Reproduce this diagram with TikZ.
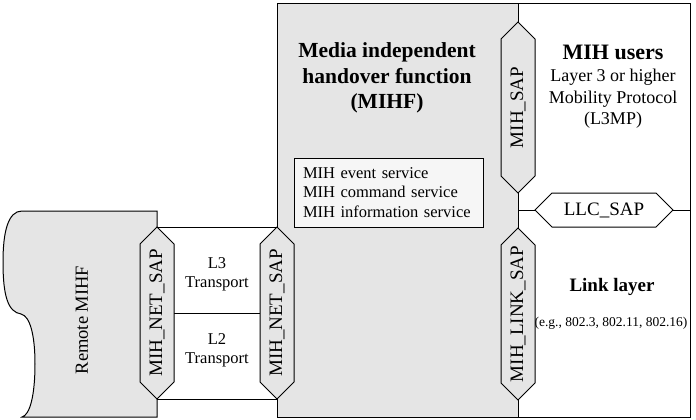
\documentclass[tikz,border=0pt]{standalone}
\usepackage{fontspec}
\setmainfont{Liberation Serif}
\usetikzlibrary{shapes.symbols,positioning}

\definecolor{boxgray}{RGB}{229,229,229}
\definecolor{srvgray}{RGB}{246,246,246}

\tikzset{
  sap/.style={draw, fill=boxgray, shape=signal, signal to=east and west,
    signal pointer angle=90, minimum height=34pt, inner sep=0pt,
    font=\fontsize{19}{22}\selectfont},
  txt/.style 2 args={align=center, inner sep=0pt, font=\fontsize{#1}{#2}\selectfont},
  hd/.style 2 args={align=center, inner sep=0pt, font=\fontsize{#1}{#2}\selectfont\bfseries},
}

\begin{document}
\begin{tikzpicture}[x=1pt, y=-1pt, line width=1pt]

  \useasboundingbox (0,0) rectangle (696,420);

  %% remote side
  \draw[fill=boxgray] (157,211) -- (22,211)
    .. controls (8,211) and (3,232) .. (3,262)
    .. controls (3,296) and (8,312) .. (21,314)
    .. controls (30,316) and (35,335) .. (35,364)
    .. controls (35,395) and (30,415) .. (22,417) -- (157,417) -- cycle;
  \node[txt={18.5}{21}, rotate=90] (remote) at (82,320) {Remote MIHF};

  %% transport
  \draw[fill=white] (157,227) rectangle (277,399);
  \draw (157,313) -- (277,313);
  \node[txt={16.5}{19}] (l3) at (217,274) {L3\\Transport};
  \node[txt={16.5}{19}] (l2) at (217,350) {L2\\Transport};

  %% local MIHF and users / link layer
  \draw[fill=boxgray] (277,4) rectangle (518,417);
  \draw[fill=white] (518,4) rectangle (690,417);

  \node[hd={21.5}{25.5}] (mihf) at (387,78) {Media independent\\handover function\\(MIHF)};
  \node[draw, fill=srvgray, align=left, minimum width=189pt, minimum height=69pt,
    text width=171pt, inner xsep=9pt, font=\fontsize{16.5}{19.5}\selectfont]
    (srv) at (388.5,192.5) {MIH event service\\MIH command service\\MIH information service};

  \node[hd={22}{26}] (users) at (613,52) {MIH users};
  \node[txt={18}{21.5}, below=9pt of users] (l3mp) {Layer 3 or higher\\Mobility Protocol\\(L3MP)};

  \node[hd={19}{22}] (link) at (612,287) {Link layer};
  \node[txt={13.5}{16}] (eg) at (611,323) {(e.g., 802.3, 802.11, 802.16)};

  %% access points
  \node[sap, rotate=90, minimum width=172pt] (netL) at (157,313) {MIH\_NET\_SAP};
  \node[sap, rotate=90, minimum width=172pt] (netR) at (277,313) {MIH\_NET\_SAP};
  \node[sap, rotate=90, minimum width=171pt] (misap) at (518,107.5) {MIH\_SAP};
  \node[sap, rotate=90, minimum width=172pt] (linksap) at (518,314) {MIH\_LINK\_SAP};

  \draw (518,210) -- (690,210);
  \node[sap, fill=white, minimum width=138pt] (llc) at (604,210) {LLC\_SAP};

\end{tikzpicture}
\end{document}
